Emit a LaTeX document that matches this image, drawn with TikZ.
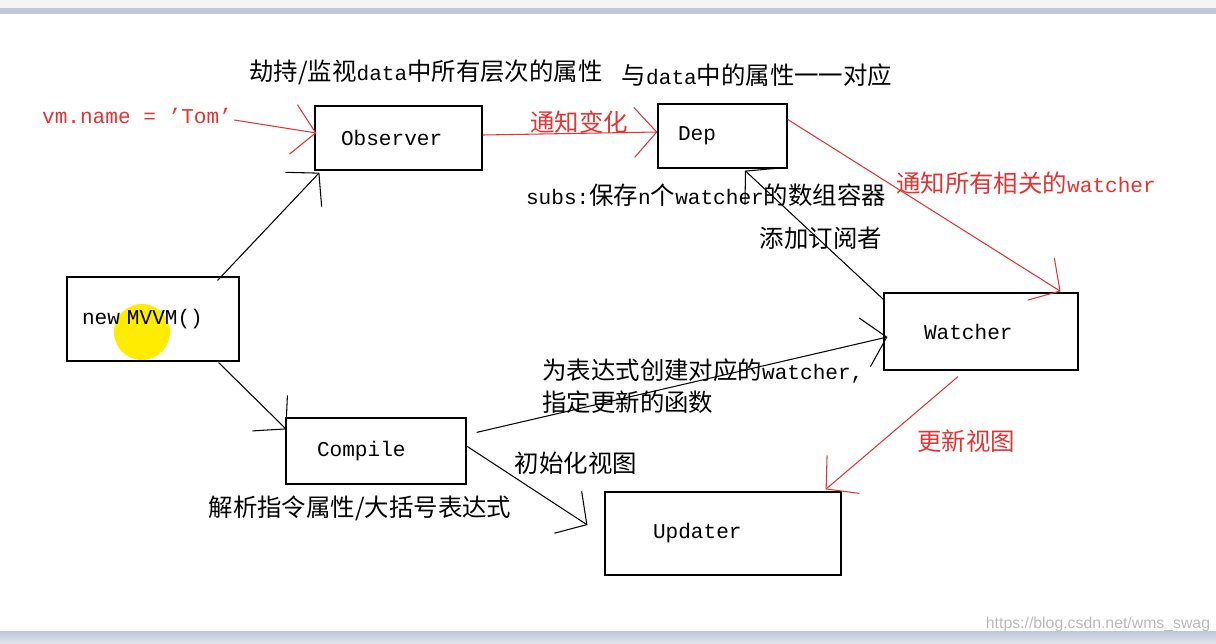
\documentclass[tikz,border=0pt]{standalone}
\usepackage{fontspec}
\setmainfont{Liberation Mono}
\newfontfamily\cjk{Noto Sans CJK SC}
\newfontfamily\markfont{Liberation Sans}
\usetikzlibrary{arrows.meta, positioning}
\definecolor{penred}{RGB}{226,52,52}
\definecolor{hilite}{RGB}{255,236,0}
\definecolor{barblue}{RGB}{190,200,216}
\newcommand{\zh}[1]{{\fontsize{13.9}{18.2}\selectfont\cjk #1}}

\begin{document}
\begin{tikzpicture}[x=0.02cm, y=-0.02cm,
    box/.style={rectangle, draw=black, line width=0.7pt, align=left, inner ysep=0pt, font=\fontsize{12}{14}\selectfont},
    lbl/.style={inner sep=0pt, align=left, font=\fontsize{12}{18.2}\selectfont},
    note/.style={lbl, text=penred},
    arrow/.style={-{Straight Barb[length=0.45cm, width=1cm]}, line width=0.6pt},
    redarrow/.style={arrow, draw=penred}
]
    \useasboundingbox (0,0) rectangle (1216,643);
    % screen bars
    \fill[gray!8] (0,0) rectangle (1216,8);
    \fill[barblue] (0,8) rectangle (1216,14);
    \fill[top color=barblue, bottom color=barblue!50] (0,631) rectangle (1216,643);

    % boxes
    \node[box, minimum width=3.34cm, minimum height=1.28cm, text width=2.30cm, inner xsep=0.52cm] (observer) at (398.5,138) {Observer};
    \node[box, minimum width=2.58cm, minimum height=1.28cm, text width=1.78cm, inner xsep=0.4cm] (dep) at (722.5,136) {Dep};
    \fill[hilite] (142,332) circle (0.56cm);
    \node[box, minimum width=3.44cm, minimum height=1.68cm, text width=2.84cm, inner xsep=0.3cm] (mvvm) at (153,319) {new MVVM()};
    \node[box, minimum width=3.6cm, minimum height=1.32cm, text width=2.36cm, inner xsep=0.62cm] (compile) at (376,451) {Compile};
    \node[box, minimum width=3.88cm, minimum height=1.54cm, text width=2.28cm, inner xsep=0.8cm] (watcher) at (981,331.5) {Watcher};
    \node[box, minimum width=4.72cm, minimum height=1.66cm, text width=2.80cm, inner xsep=0.96cm] (updater) at (723,533.5) {Updater};

    % texts
    \node[lbl] (hijack) at (426,72) {\zh{劫持/监视}data\zh{中所有层次的属性}};
    \node[lbl] (mapping) at (757,75) {\zh{与}data\zh{中的属性一一对应}};
    \node[note] (assign) at (137,116) {vm.name = ’Tom’};
    \node[note] (notify) at (579,122) {\zh{通知变化}};
    \node[lbl] (subs) at (706,195) {subs:\zh{保存}n\zh{个}watcher\zh{的数组容器}};
    \node[note] (notifyall) at (1026,183) {\zh{通知所有相关的}watcher};
    \node[lbl] (subscribe) at (821,238) {\zh{添加订阅者}};
    \node[lbl, anchor=west] (create) at (542,386) {\zh{为表达式创建对应的}watcher,\\\zh{指定更新的函数}};
    \node[note] (render) at (966,441) {\zh{更新视图}};
    \node[lbl] (init) at (576,463) {\zh{初始化视图}};
    \node[lbl] (parse) at (360,508) {\zh{解析指令属性/大括号表达式}};
    \node[inner sep=0pt, text=gray!55, font=\fontsize{9}{10}\markfont] (mark) at (1098,624) {https://blog.csdn.net/wms\_swag};

    % arrows
    \draw[arrow] ([xshift=-0.44cm, yshift=-0.08cm]mvvm.north east) -- ([xshift=0.1cm, yshift=-0.04cm]observer.south west);
    \draw[arrow] ([xshift=-0.42cm, yshift=-0.02cm]mvvm.south east) -- ([xshift=0.02cm, yshift=-0.24cm]compile.north west);
    \draw[redarrow] ([xshift=0.04cm, yshift=-0.08cm]assign.east) -- ([xshift=0.04cm, yshift=0.1cm]observer.west);
    \draw[redarrow] ([yshift=0.06cm]observer.east) -- ([yshift=0.08cm]dep.west);
    \draw[redarrow] ([yshift=-0.32cm]dep.north east) -- ([xshift=-0.36cm, yshift=0.02cm]watcher.north east);
    \draw[arrow] ([yshift=-0.14cm]watcher.north west) -- ([xshift=0.45cm, yshift=-0.04cm]dep.south);
    \draw[arrow] ([xshift=0.2cm, yshift=-0.3cm]compile.north east) -- ([xshift=0.08cm, yshift=-0.11cm]watcher.west);
    \draw[arrow] ([yshift=0.1cm]compile.east) -- ([xshift=-0.34cm, yshift=0.17cm]updater.west);
    \draw[redarrow] ([xshift=-0.46cm, yshift=-0.12cm]watcher.south) -- ([xshift=-0.32cm, yshift=0.04cm]updater.north east);
\end{tikzpicture}
\end{document}
